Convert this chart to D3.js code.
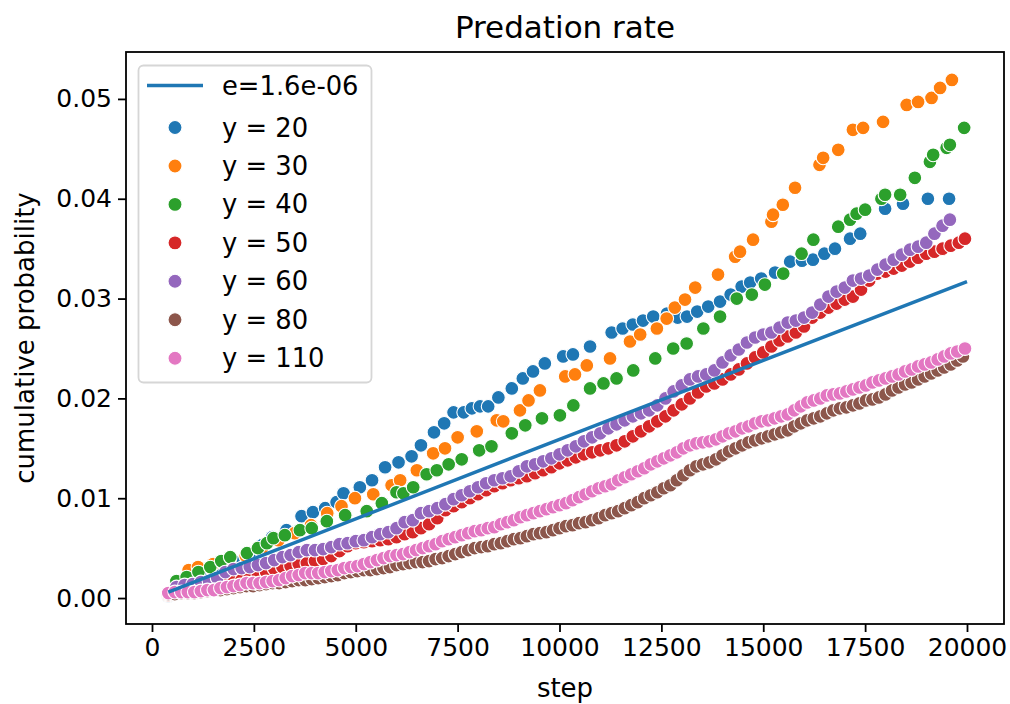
<!DOCTYPE html>
<html>
<head>
<meta charset="utf-8">
<script src="https://cdn.jsdelivr.net/npm/d3@7"></script>
<style>
  body { margin: 0; background: #fff; }
  svg { display: block; font-family: "DejaVu Sans", sans-serif; }
</style>
</head>
<body>
<svg id="chart" width="1010" height="704"></svg>
<script>
// series: [step, cumulative probability]
const y20 = [[400,0.0002],[800,0.0012],[1200,0.0021],[1600,0.0029],[2000,0.0037],[2400,0.0045],[2700,0.0053],[2950,0.0061],[3300,0.0068],[3670,0.0082],[3950,0.0086],[4250,0.0090],[4530,0.0096],[4700,0.0105],[5100,0.0111],[5400,0.0118],[5720,0.0131],[6050,0.0136],[6370,0.0142],[6600,0.0153],[6920,0.0166],[7170,0.0175],[7400,0.0186],[7650,0.0186],[7850,0.0190],[8050,0.0192],[8250,0.0192],[8500,0.0201],[8830,0.0210],[9100,0.0220],[9350,0.0227],[9640,0.0235],[10090,0.0242],[10330,0.0244],[10750,0.0252],[11280,0.0266],[11550,0.0270],[11800,0.0274],[12050,0.0278],[12300,0.0282],[12640,0.0285],[12900,0.0281],[13130,0.0282],[13380,0.0287],[13650,0.0292],[13940,0.0297],[14200,0.0304],[14470,0.0312],[14680,0.0316],[14950,0.0320],[15290,0.0326],[15660,0.0337],[15950,0.0338],[16220,0.0339],[16500,0.0345],[16760,0.0350],[17130,0.0360],[17380,0.0365],[17990,0.0390],[18430,0.0395],[19040,0.0400],[19560,0.0400]];
const y30 = [[400,0.0003],[700,0.0016],[900,0.0028],[1130,0.0031],[1500,0.0034],[1900,0.0038],[2300,0.0042],[2700,0.0050],[3100,0.0058],[3500,0.0065],[3900,0.0073],[4300,0.0085],[4650,0.0092],[4980,0.0100],[5430,0.0104],[5880,0.0113],[6090,0.0118],[6500,0.0128],[6900,0.0145],[7190,0.0150],[7500,0.0161],[7970,0.0167],[8460,0.0178],[8620,0.0177],[9030,0.0188],[9240,0.0198],[9520,0.0208],[10140,0.0222],[10380,0.0224],[10670,0.0233],[11240,0.0240],[11730,0.0257],[11980,0.0264],[12390,0.0270],[12630,0.0280],[12830,0.0291],[13080,0.0299],[13330,0.0311],[13890,0.0324],[14310,0.0342],[14430,0.0347],[14750,0.0359],[15200,0.0377],[15240,0.0384],[15480,0.0394],[15780,0.0411],[16380,0.0434],[16470,0.0441],[16840,0.0449],[17200,0.0469],[17450,0.0471],[17940,0.0477],[18520,0.0494],[18800,0.0497],[19130,0.0501],[19340,0.0511],[19630,0.0519]];
const y40 = [[400,0.0003],[600,0.0017],[850,0.0021],[1140,0.0026],[1430,0.0031],[1700,0.0037],[1920,0.0041],[2330,0.0045],[2600,0.0050],[2820,0.0055],[2980,0.0060],[3260,0.0063],[3630,0.0068],[3920,0.0070],[4290,0.0077],[4740,0.0083],[5270,0.0087],[5640,0.0095],[6000,0.0106],[6170,0.0105],[6410,0.0111],[6740,0.0124],[6990,0.0128],[7280,0.0134],[7600,0.0139],[8030,0.0148],[8330,0.0152],[8830,0.0165],[9160,0.0173],[9570,0.0180],[10010,0.0183],[10340,0.0193],[10750,0.0210],[11080,0.0215],[11400,0.0220],[11810,0.0228],[12350,0.0240],[12790,0.0250],[13120,0.0255],[13530,0.0270],[13940,0.0282],[14350,0.0300],[14720,0.0304],[15040,0.0314],[15490,0.0325],[15940,0.0345],[16230,0.0359],[16840,0.0372],[17130,0.0379],[17290,0.0385],[17500,0.0389],[17900,0.0400],[17990,0.0404],[18360,0.0404],[18720,0.0421],[19090,0.0437],[19170,0.0444],[19500,0.0451],[19580,0.0454],[19930,0.0471]];
const y50 = [[400,0.0003],[600,0.0008],[800,0.0009],[1000,0.0010],[1200,0.0011],[1400,0.0012],[1600,0.0013],[1800,0.0014],[2000,0.0016],[2200,0.0018],[2400,0.0021],[2600,0.0023],[2800,0.0026],[3000,0.0029],[3200,0.0031],[3400,0.0032],[3600,0.0034],[3800,0.0035],[4000,0.0037],[4200,0.0039],[4400,0.0042],[4600,0.0047],[4800,0.0052],[5000,0.0055],[5200,0.0056],[5400,0.0057],[5600,0.0058],[5800,0.0059],[6000,0.0061],[6200,0.0064],[6400,0.0066],[6600,0.0070],[6800,0.0074],[7000,0.0080],[7200,0.0088],[7400,0.0092],[7600,0.0096],[7800,0.0100],[8000,0.0104],[8200,0.0108],[8400,0.0112],[8600,0.0115],[8800,0.0118],[9000,0.0120],[9200,0.0122],[9400,0.0125],[9600,0.0128],[9800,0.0131],[10000,0.0135],[10200,0.0138],[10400,0.0141],[10600,0.0144],[10800,0.0146],[11000,0.0148],[11200,0.0150],[11400,0.0153],[11600,0.0157],[11800,0.0162],[12000,0.0167],[12200,0.0172],[12400,0.0177],[12600,0.0182],[12800,0.0188],[13000,0.0194],[13200,0.0200],[13400,0.0206],[13600,0.0212],[13800,0.0215],[14000,0.0219],[14200,0.0224],[14400,0.0229],[14600,0.0235],[14800,0.0241],[15000,0.0246],[15200,0.0252],[15400,0.0258],[15600,0.0262],[15800,0.0266],[16000,0.0272],[16200,0.0281],[16400,0.0286],[16600,0.0291],[16800,0.0295],[17000,0.0299],[17200,0.0302],[17400,0.0309],[17600,0.0318],[17800,0.0325],[18000,0.0327],[18200,0.0330],[18400,0.0333],[18600,0.0337],[18800,0.0341],[19000,0.0345],[19200,0.0347],[19400,0.0350],[19600,0.0353],[19800,0.0356],[19950,0.0360]];
const y60 = [[400,0.0004],[600,0.0011],[800,0.0013],[1000,0.0014],[1200,0.0016],[1400,0.0017],[1600,0.0020],[1800,0.0026],[2000,0.0029],[2200,0.0030],[2400,0.0031],[2600,0.0033],[2800,0.0035],[3000,0.0038],[3200,0.0041],[3400,0.0043],[3600,0.0046],[3800,0.0048],[4000,0.0048],[4200,0.0049],[4400,0.0051],[4600,0.0054],[4800,0.0055],[5000,0.0057],[5200,0.0058],[5400,0.0061],[5600,0.0064],[5800,0.0066],[6000,0.0070],[6200,0.0076],[6400,0.0078],[6600,0.0085],[6800,0.0087],[7000,0.0090],[7200,0.0094],[7400,0.0099],[7600,0.0103],[7800,0.0107],[8000,0.0111],[8200,0.0115],[8400,0.0118],[8600,0.0120],[8800,0.0122],[9000,0.0127],[9200,0.0132],[9400,0.0134],[9600,0.0137],[9800,0.0140],[10000,0.0144],[10200,0.0148],[10400,0.0152],[10600,0.0157],[10800,0.0161],[11000,0.0165],[11200,0.0170],[11400,0.0174],[11600,0.0178],[11800,0.0182],[12000,0.0185],[12200,0.0188],[12400,0.0193],[12600,0.0200],[12800,0.0207],[13000,0.0213],[13200,0.0219],[13400,0.0222],[13600,0.0224],[13800,0.0228],[14000,0.0236],[14200,0.0243],[14400,0.0249],[14600,0.0256],[14800,0.0261],[15000,0.0264],[15200,0.0266],[15400,0.0271],[15600,0.0276],[15800,0.0278],[16000,0.0281],[16200,0.0286],[16400,0.0294],[16600,0.0302],[16800,0.0307],[17000,0.0311],[17200,0.0318],[17400,0.0320],[17600,0.0323],[17800,0.0329],[18000,0.0334],[18200,0.0339],[18400,0.0344],[18600,0.0349],[18800,0.0352],[19000,0.0356],[19200,0.0365],[19400,0.0373],[19580,0.0379]];
const y80 = [[400,0.0004],[560,0.0004],[720,0.0005],[880,0.0005],[1040,0.0005],[1200,0.0006],[1360,0.0007],[1520,0.0008],[1680,0.0008],[1840,0.0009],[2000,0.0010],[2160,0.0011],[2320,0.0012],[2480,0.0012],[2640,0.0013],[2800,0.0014],[2960,0.0015],[3120,0.0015],[3280,0.0016],[3440,0.0017],[3600,0.0018],[3760,0.0018],[3920,0.0019],[4080,0.0020],[4240,0.0021],[4400,0.0022],[4560,0.0023],[4720,0.0025],[4880,0.0026],[5040,0.0027],[5200,0.0028],[5360,0.0028],[5520,0.0029],[5680,0.0030],[5840,0.0031],[6000,0.0033],[6160,0.0034],[6320,0.0035],[6480,0.0036],[6640,0.0036],[6800,0.0037],[6960,0.0039],[7120,0.0040],[7280,0.0042],[7440,0.0044],[7600,0.0046],[7760,0.0048],[7920,0.0050],[8080,0.0051],[8240,0.0052],[8400,0.0054],[8560,0.0055],[8720,0.0057],[8880,0.0059],[9040,0.0060],[9200,0.0062],[9360,0.0064],[9520,0.0065],[9680,0.0066],[9840,0.0068],[10000,0.0070],[10160,0.0072],[10320,0.0073],[10480,0.0075],[10640,0.0076],[10800,0.0078],[10960,0.0080],[11120,0.0083],[11280,0.0085],[11440,0.0087],[11600,0.0090],[11760,0.0093],[11920,0.0096],[12080,0.0100],[12240,0.0103],[12400,0.0106],[12560,0.0110],[12720,0.0113],[12880,0.0118],[13040,0.0123],[13200,0.0128],[13360,0.0132],[13520,0.0134],[13680,0.0136],[13840,0.0139],[14000,0.0143],[14160,0.0147],[14320,0.0150],[14480,0.0153],[14640,0.0156],[14800,0.0158],[14960,0.0160],[15120,0.0162],[15280,0.0164],[15440,0.0166],[15600,0.0168],[15760,0.0172],[15920,0.0175],[16080,0.0178],[16240,0.0180],[16400,0.0182],[16560,0.0185],[16720,0.0188],[16880,0.0190],[17040,0.0191],[17200,0.0193],[17360,0.0195],[17520,0.0198],[17680,0.0199],[17840,0.0201],[18000,0.0204],[18160,0.0208],[18320,0.0211],[18480,0.0214],[18640,0.0216],[18800,0.0219],[18960,0.0222],[19120,0.0225],[19280,0.0228],[19440,0.0231],[19600,0.0234],[19760,0.0238],[19900,0.0242]];
const y110 = [[400,0.0005],[560,0.0006],[720,0.0006],[880,0.0006],[1040,0.0006],[1200,0.0007],[1360,0.0008],[1520,0.0008],[1680,0.0010],[1840,0.0011],[2000,0.0012],[2160,0.0013],[2320,0.0015],[2480,0.0015],[2640,0.0015],[2800,0.0016],[2960,0.0017],[3120,0.0018],[3280,0.0020],[3440,0.0022],[3600,0.0023],[3760,0.0025],[3920,0.0025],[4080,0.0025],[4240,0.0026],[4400,0.0027],[4560,0.0028],[4720,0.0030],[4880,0.0031],[5040,0.0032],[5200,0.0034],[5360,0.0036],[5520,0.0038],[5680,0.0040],[5840,0.0042],[6000,0.0043],[6160,0.0044],[6320,0.0046],[6480,0.0048],[6640,0.0050],[6800,0.0052],[6960,0.0054],[7120,0.0057],[7280,0.0059],[7440,0.0061],[7600,0.0063],[7760,0.0065],[7920,0.0067],[8080,0.0068],[8240,0.0070],[8400,0.0071],[8560,0.0074],[8720,0.0076],[8880,0.0078],[9040,0.0081],[9200,0.0083],[9360,0.0085],[9520,0.0087],[9680,0.0089],[9840,0.0091],[10000,0.0093],[10160,0.0095],[10320,0.0098],[10480,0.0101],[10640,0.0104],[10800,0.0107],[10960,0.0110],[11120,0.0112],[11280,0.0114],[11440,0.0118],[11600,0.0121],[11760,0.0124],[11920,0.0127],[12080,0.0130],[12240,0.0134],[12400,0.0137],[12560,0.0140],[12720,0.0143],[12880,0.0146],[13040,0.0150],[13200,0.0153],[13360,0.0155],[13520,0.0156],[13680,0.0157],[13840,0.0159],[14000,0.0162],[14160,0.0165],[14320,0.0167],[14480,0.0170],[14640,0.0172],[14800,0.0175],[14960,0.0177],[15120,0.0178],[15280,0.0180],[15440,0.0182],[15600,0.0184],[15760,0.0188],[15920,0.0192],[16080,0.0196],[16240,0.0198],[16400,0.0200],[16560,0.0203],[16720,0.0204],[16880,0.0205],[17040,0.0207],[17200,0.0209],[17360,0.0211],[17520,0.0213],[17680,0.0216],[17840,0.0218],[18000,0.0220],[18160,0.0222],[18320,0.0224],[18480,0.0227],[18640,0.0229],[18800,0.0232],[18960,0.0234],[19120,0.0236],[19280,0.0239],[19440,0.0242],[19600,0.0245],[19760,0.0247],[19950,0.0250]];

// fitted curve, e=1.6e-06
const modelSteps = [400, 10000, 20000];
const modelValues = [0.0006, 0.0159, 0.0317];

const seriesNames = ['y = 20', 'y = 30', 'y = 40', 'y = 50', 'y = 60', 'y = 80', 'y = 110'];
const seriesData = [y20, y30, y40, y50, y60, y80, y110];
const colors = ['#1f77b4', '#ff7f0e', '#2ca02c', '#d62728', '#9467bd', '#8c564b', '#e377c2'];
const xTicks = [0, 2500, 5000, 7500, 10000, 12500, 15000, 17500, 20000];
const yTicks = [0, 0.01, 0.02, 0.03, 0.04, 0.05];

const svg = d3.select('#chart');
const plotL = 126, plotR = 1004, plotT = 52, plotB = 624;

const x = d3.scaleLinear().domain([-638, 20908]).range([plotL, plotR]);
const y = d3.scaleLinear().domain([-0.0026, 0.0547]).range([plotB, plotT]);

svg.append('rect').attr('width', 1010).attr('height', 704).attr('fill', '#fff');

// points, drawn series after series
const pts = svg.append('g');
seriesData.forEach((s, i) => {
  pts.selectAll(null)
    .data(s)
    .join('circle')
    .attr('cx', d => x(d[0]))
    .attr('cy', d => y(d[1]))
    .attr('r', 6.9)
    .attr('fill', colors[i])
    .attr('stroke', '#fff')
    .attr('stroke-width', 1.1);
});

// model line on top
const line = d3.line().x((d, i) => x(modelSteps[i])).y(d => y(d));
svg.append('path')
  .datum(modelValues)
  .attr('d', line)
  .attr('fill', 'none')
  .attr('stroke', '#1f77b4')
  .attr('stroke-width', 3.4);

// axes
const xAxis = d3.axisBottom(x).tickValues(xTicks).tickFormat(d3.format('d')).tickSize(8).tickPadding(6);
const yAxis = d3.axisLeft(y).tickValues(yTicks).tickFormat(d3.format('.2f')).tickSize(8).tickPadding(6);

const gx = svg.append('g').attr('transform', `translate(0,${plotB})`).call(xAxis);
const gy = svg.append('g').attr('transform', `translate(${plotL},0)`).call(yAxis);
[gx, gy].forEach(g => {
  g.select('.domain').remove();
  g.selectAll('.tick line').attr('stroke', '#000').attr('stroke-width', 1.8);
  g.selectAll('.tick text').attr('fill', '#000').style('font-size', '25px')
    .style('font-family', '"DejaVu Sans", sans-serif');
});

svg.append('rect')
  .attr('x', plotL).attr('y', plotT)
  .attr('width', plotR - plotL).attr('height', plotB - plotT)
  .attr('fill', 'none').attr('stroke', '#000').attr('stroke-width', 1.8);

// labels
svg.append('text').attr('x', (plotL + plotR) / 2).attr('y', 38)
  .attr('text-anchor', 'middle').style('font-size', '31px').text('Predation rate');
svg.append('text').attr('x', (plotL + plotR) / 2).attr('y', 697)
  .attr('text-anchor', 'middle').style('font-size', '26px').text('step');
svg.append('text')
  .attr('transform', `translate(34,${(plotT + plotB) / 2}) rotate(-90)`)
  .attr('text-anchor', 'middle').style('font-size', '26px').text('cumulative probability');

// legend
const lg = svg.append('g');
lg.append('rect')
  .attr('x', 138.5).attr('y', 65.5).attr('width', 233).attr('height', 317)
  .attr('rx', 5).attr('fill', '#fff').attr('fill-opacity', 0.8)
  .attr('stroke', '#d6d6d6').attr('stroke-width', 1.8);
lg.append('line')
  .attr('x1', 147).attr('x2', 203).attr('y1', 85.5).attr('y2', 85.5)
  .attr('stroke', '#1f77b4').attr('stroke-width', 3.4);
lg.append('text').attr('x', 222).attr('y', 85.5).attr('dy', '0.35em')
  .style('font-size', '25.8px').text('e=1.6e-06');
seriesNames.forEach((name, i) => {
  const cy = 127.5 + i * 38.45;
  lg.append('circle').attr('cx', 175).attr('cy', cy).attr('r', 7)
    .attr('fill', colors[i]).attr('stroke', '#fff').attr('stroke-width', 1.1);
  lg.append('text').attr('x', 222).attr('y', cy).attr('dy', '0.35em')
    .style('font-size', '25.8px').text(name);
});
</script>
</body>
</html>
